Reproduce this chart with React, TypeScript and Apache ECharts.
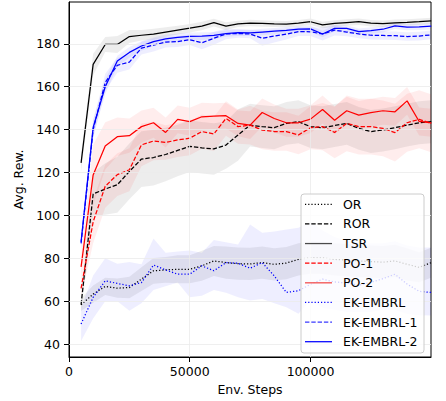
import React, { useEffect, useRef } from "react";
import * as echarts from "echarts";

const steps = [5000, 10000, 15000, 20000, 25000, 30000, 35000, 40000, 45000, 50000, 55000, 60000, 65000, 70000, 75000, 80000, 85000, 90000, 95000, 100000, 105000, 110000, 115000, 120000, 125000, 130000, 135000, 140000, 145000, 150000];
const xTicks = [0, 50000, 100000];
const yTicks = [40, 60, 80, 100, 120, 140, 160, 180];

const orMean = [58.4, 63.3, 66.9, 66.1, 66.4, 70.3, 74.2, 74.6, 74.9, 74.9, 76.5, 78.8, 78.0, 77.5, 77.4, 78.0, 77.2, 77.8, 79.5, 80.3, 80.2, 79.5, 79.2, 78.8, 78.5, 78.2, 78.8, 77.2, 75.8, 78.0];
const orStd = [3, 4, 4, 4.5, 5, 5.5, 6, 6, 6.5, 6.5, 7, 7, 7.5, 7.5, 7.5, 7.5, 7.5, 7.5, 7.5, 7.5, 7.5, 7.5, 7.5, 7.5, 7.5, 7.5, 7.5, 7.5, 7, 7];

const rorMean = [58.4, 110, 112.3, 114.3, 120.5, 126.3, 127.0, 128.4, 130.3, 132.2, 131.5, 131.0, 132.8, 137.5, 142.1, 141.4, 140.9, 142.9, 143.7, 141.4, 140.9, 141.9, 142.9, 140.6, 139.1, 139.8, 140.9, 142.1, 143.2, 143.7];
const rorStd = [3, 10, 12, 13, 13, 13, 13, 12.5, 12, 12, 12, 12, 11, 12, 10, 10, 10, 10, 10, 10, 10, 10, 10, 10, 10, 10, 10, 10, 10, 10];

const tsrMean = [124.5, 170.4, 179.7, 179.7, 183.4, 184.0, 184.5, 185.5, 186.4, 187.3, 188.3, 189.9, 188.3, 189.3, 189.7, 189.5, 189.3, 189.2, 189.6, 190.3, 188.8, 189.5, 189.9, 190.3, 189.6, 189.4, 189.8, 190.0, 190.3, 190.7];
const tsrStd = [4, 5, 3.5, 4, 3, 2.5, 2.5, 2.2, 2, 2, 2, 1.8, 1.8, 1.5, 1.5, 1.5, 1.5, 1.5, 1.5, 1.5, 1.5, 1.5, 1.5, 1.5, 1.5, 1.5, 1.5, 1.5, 1.5, 1.5];

const po1Mean = [66, 97, 113.6, 119, 121.3, 132.9, 134.7, 134.0, 135.2, 136.0, 139.1, 138.0, 145.2, 141.4, 142.1, 139.8, 139.1, 139.1, 137.5, 140.9, 141.4, 138.7, 142.9, 141.4, 141.4, 140.6, 138.6, 143.2, 144.8, 142.9];
const po1Std = [4, 10, 10, 10, 10, 10, 9, 8, 8, 8, 8, 8, 8, 8, 9, 9, 9, 9, 9, 10, 11, 12, 13, 13, 13, 13, 13.5, 13.5, 13.5, 13.5];

const po2Mean = [76, 118.9, 132.4, 136.7, 137.2, 141.4, 143.2, 138.7, 144.8, 143.7, 146.0, 146.3, 146.5, 142.9, 142.1, 148.0, 145.2, 143.2, 143.2, 144.9, 149.4, 144.4, 148.8, 146.8, 147.9, 148.8, 148.3, 153.4, 143.8, 143.2];
const po2Std = [5, 14, 11, 9, 8, 7.5, 7, 7, 6.5, 6.5, 6.5, 6, 6, 6, 6.5, 6.5, 6.5, 6.5, 6.5, 6.5, 6.5, 6.5, 6.5, 6.5, 6.5, 6.5, 6.5, 6.5, 6.5, 6.5];

const ekMean = [49.4, 61.8, 69.5, 68.3, 67.2, 68.7, 76.9, 74.6, 72.6, 72.6, 76.5, 74.2, 78.0, 77.7, 75.4, 78.0, 71.8, 64.1, 64.9, 67.9, 70.3, 69.0, 68.5, 67.5, 68.8, 70.5, 72.6, 68.0, 64.6, 64.1];
const ekLow = [41.5, 52, 60, 60, 55.6, 59, 65.2, 67, 68.7, 61.8, 62.6, 65.2, 64, 61.8, 60.3, 61, 59, 57.2, 54.2, 60.3, 57, 56, 55, 55, 55, 56, 56, 54, 53.5, 53.3];
const ekHigh = [57, 72, 80, 77.5, 78.3, 77.2, 89.3, 82.6, 83.2, 83.7, 82.6, 88.5, 87.5, 86.5, 95.8, 91.9, 92.5, 93.4, 94.2, 97, 93, 90, 88, 88, 87, 87, 88, 86, 85, 85];

const ek1Mean = [87, 140, 162, 170, 171.5, 178, 179.4, 180.8, 181, 181.9, 180.5, 182.6, 184.6, 184.8, 184.6, 182.6, 183.6, 184.5, 185.7, 185.6, 184.6, 186.4, 185.5, 184.6, 184.0, 183.9, 183.8, 183.4, 183.6, 184.2];
const ek1Std = [3, 4, 4, 3.5, 3.5, 3, 3, 2.5, 2.5, 2.5, 3, 3, 2.5, 2, 2, 3.5, 3, 2.5, 2, 2, 3, 2.5, 2, 2, 2, 2, 2, 2, 2, 2];

const ek2Mean = [87.7, 141, 160, 172, 176, 179, 181, 182.3, 183, 183.5, 183.6, 183.9, 184.8, 185.2, 185.1, 185.5, 185.9, 186.3, 186.8, 187.0, 184.6, 187.2, 187.2, 185.7, 186.2, 186.8, 188.4, 187.8, 187.9, 188.2];
const ek2Std = [3, 4, 3.5, 2.5, 2.5, 2.2, 2, 2, 1.8, 1.8, 1.8, 1.6, 1.5, 1.5, 1.5, 1.5, 1.5, 1.5, 1.5, 1.5, 1.5, 1.5, 1.5, 1.5, 1.5, 1.5, 1.5, 1.5, 1.5, 1.5];

const DASHED = [4.4, 1.9];
const DOTTED = [1.2, 2.0];
const BLACK_BAND = "rgba(0,0,0,0.07)";
const RED_BAND = "rgba(255,0,0,0.07)";
const BLUE_BAND = "rgba(0,0,255,0.065)";

type Method = {
  name: string;
  mean: number[];
  lo: number[];
  hi: number[];
  color: string;
  handle: string;
  band: string;
  dash: number[] | "solid";
};

const minus = (m: number[], s: number[]) => m.map((v, i) => v - s[i]);
const plus = (m: number[], s: number[]) => m.map((v, i) => v + s[i]);

const methods: Method[] = [
  { name: "OR", mean: orMean, lo: minus(orMean, orStd), hi: plus(orMean, orStd), color: "#000000", handle: "#000000", band: BLACK_BAND, dash: DOTTED },
  { name: "ROR", mean: rorMean, lo: minus(rorMean, rorStd), hi: plus(rorMean, rorStd), color: "#000000", handle: "#000000", band: BLACK_BAND, dash: DASHED },
  { name: "TSR", mean: tsrMean, lo: minus(tsrMean, tsrStd), hi: plus(tsrMean, tsrStd), color: "#000000", handle: "#4a4a4a", band: BLACK_BAND, dash: "solid" },
  { name: "PO-1", mean: po1Mean, lo: minus(po1Mean, po1Std), hi: plus(po1Mean, po1Std), color: "#ff0000", handle: "#ff0000", band: RED_BAND, dash: DASHED },
  { name: "PO-2", mean: po2Mean, lo: minus(po2Mean, po2Std), hi: plus(po2Mean, po2Std), color: "#ff0000", handle: "#f24a4a", band: RED_BAND, dash: "solid" },
  { name: "EK-EMBRL", mean: ekMean, lo: ekLow, hi: ekHigh, color: "#0000ff", handle: "#0000ff", band: BLUE_BAND, dash: DOTTED },
  { name: "EK-EMBRL-1", mean: ek1Mean, lo: minus(ek1Mean, ek1Std), hi: plus(ek1Mean, ek1Std), color: "#0000ff", handle: "#3a3aff", band: BLUE_BAND, dash: DASHED },
  { name: "EK-EMBRL-2", mean: ek2Mean, lo: minus(ek2Mean, ek2Std), hi: plus(ek2Mean, ek2Std), color: "#0000ff", handle: "#0000ff", band: BLUE_BAND, dash: "solid" },
];

const FONT = "DejaVu Sans";

export default function App() {
  const ref = useRef<HTMLDivElement>(null);
  useEffect(() => {
    document.body.style.margin = "0";
    if (!ref.current) return;
    const chart = echarts.init(ref.current, undefined, { renderer: "svg" });

    const series: any[] = [];
    series.push({
      type: "line",
      data: [],
      silent: true,
      z: 0,
      markLine: {
        silent: true,
        symbol: ["none", "none"],
        label: { show: false },
        lineStyle: { color: "#ebebeb", width: 0.8, type: "solid" },
        emphasis: { disabled: true },
        animation: false,
        data: [
          ...yTicks.map((v) => ({ yAxis: v })),
          ...xTicks.filter((v) => v > 0).map((v) => ({ xAxis: v })),
        ],
      },
    });
    methods.forEach((m) => {
      series.push({
        type: "custom",
        name: m.name + "-band",
        silent: true,
        clip: true,
        z: 1,
        data: [[steps[0], m.lo[0]]],
        renderItem: (params: any, api: any) => {
          const pts: number[][] = [];
          steps.forEach((x, i) => pts.push(api.coord([x, m.hi[i]])));
          for (let i = steps.length - 1; i >= 0; i--) pts.push(api.coord([steps[i], m.lo[i]]));
          return {
            type: "polygon",
            shape: { points: pts },
            style: { fill: m.band, stroke: "none" },
          };
        },
      });
    });
    methods.forEach((m) => {
      series.push({
        type: "line",
        name: m.name,
        data: steps.map((x, i) => [x, m.mean[i]]),
        symbol: "none",
        showSymbol: false,
        silent: true,
        lineStyle: { color: m.color, width: 1.25, type: m.dash },
        z: 3,
      });
    });

    const legendX = 301;
    const legendY = 194;
    const rowH = 19.63;
    const firstRow = 204.3;
    const graphic: any[] = [
      {
        type: "rect",
        z: 100,
        shape: { x: legendX, y: legendY, width: 123, height: 159, r: 3 },
        style: { fill: "rgba(255,255,255,0.8)", stroke: "#cccccc", lineWidth: 1 },
      },
    ];
    methods.forEach((m, i) => {
      const yc = firstRow + rowH * i;
      graphic.push({
        type: "line",
        z: 101,
        shape: { x1: 305, y1: yc, x2: 332, y2: yc },
        style: {
          stroke: m.handle,
          lineWidth: 1.25,
          lineDash: m.dash === "solid" ? null : m.dash,
        },
      });
      graphic.push({
        type: "text",
        z: 101,
        x: 343,
        y: yc,
        style: {
          text: m.name,
          fill: "#000000",
          fontSize: 12.5,
          fontFamily: FONT,
          verticalAlign: "middle",
          align: "left",
        },
      });
    });

    const labelStyle = { fontSize: 12.5, fontFamily: FONT, color: "#000000" };

    chart.setOption({
      animation: false,
      backgroundColor: "#ffffff",
      grid: {
        left: 69,
        right: 15,
        top: 2,
        bottom: 41,
        show: true,
        borderColor: "#000000",
        borderWidth: 1,
        backgroundColor: "transparent",
      },
      xAxis: {
        type: "value",
        min: 0,
        max: 149900,
        axisLine: { show: true, lineStyle: { color: "#000000", width: 1 } },
        axisTick: { show: true, length: 5, inside: false, customValues: xTicks, lineStyle: { color: "#000000", width: 1 } },
        axisLabel: { ...labelStyle, margin: 8, customValues: xTicks, formatter: (v: number) => String(v) },
        splitLine: { show: false },
        name: "Env. Steps",
        nameLocation: "middle",
        nameGap: 26,
        nameTextStyle: { fontSize: 12.5, fontFamily: FONT, color: "#000000" },
      },
      yAxis: {
        type: "value",
        min: 34,
        max: 199.5,
        axisLine: { show: true, lineStyle: { color: "#000000", width: 1 } },
        axisTick: { show: true, length: 5, inside: false, customValues: yTicks, lineStyle: { color: "#000000", width: 1 } },
        axisLabel: { ...labelStyle, margin: 9, customValues: yTicks, formatter: (v: number) => String(v) },
        splitLine: { show: false },
        name: "Avg. Rew.",
        nameLocation: "middle",
        nameGap: 38,
        nameRotate: 90,
        nameTextStyle: { fontSize: 12.5, fontFamily: FONT, color: "#000000" },
      },
      series,
      graphic,
    });
    return () => chart.dispose();
  }, []);
  return <div ref={ref} style={{ width: 446, height: 401 }} />;
}
